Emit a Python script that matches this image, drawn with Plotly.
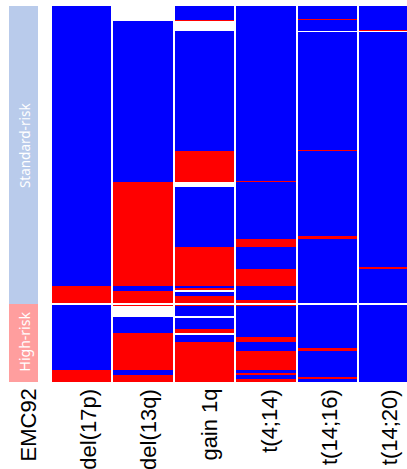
import numpy as np
import plotly.graph_objects as go

# ---------------- data ----------------
columns = ["del(17p)", "del(13q)", "gain 1q", "t(4;14)", "t(14;16)", "t(14;20)"]
risk_groups = ["Standard-risk", "High-risk"]
emc_label = "EMC92"

# status codes: 0 = absent (blue), 1 = present (red), None = not available (white)
# run-length encoded patients, top to bottom: (status, n_patients)
std_runs = {
    "del(17p)": [(0, 280), (1, 17)],
    "del(13q)": [(None, 15), (0, 161), (1, 104), (0, 5), (1, 12)],
    "gain 1q": [(0, 14), (1, 1), (None, 10), (0, 120), (1, 31), (None, 5), (0, 60),
                (1, 39), (0, 2), (1, 2), (None, 2), (0, 4), (1, 7)],
    "t(4;14)": [(0, 175), (1, 1), (0, 57), (1, 8), (0, 22), (1, 17), (0, 14), (1, 3)],
    "t(14;16)": [(0, 13), (1, 1), (0, 11), (None, 1), (0, 118), (1, 1), (0, 85), (1, 3), (0, 64)],
    "t(14;20)": [(0, 24), (1, 1), (None, 1), (0, 235), (1, 2), (0, 34)],
}
high_runs = {
    "del(17p)": [(0, 65), (1, 12)],
    "del(13q)": [(1, 1), (None, 11), (0, 16), (1, 37), (0, 5), (1, 7)],
    "gain 1q": [(1, 1), (0, 10), (None, 2), (0, 11), (1, 4), (None, 2), (0, 7), (1, 40)],
    "t(4;14)": [(1, 1), (0, 31), (1, 5), (0, 9), (1, 19), (0, 3), (1, 2), (0, 4), (1, 3)],
    "t(14;16)": [(0, 43), (1, 3), (0, 26), (1, 2), (0, 3)],
    "t(14;20)": [(0, 77)],
}

# ---------------- styling / layout constants ----------------
W, H = 407, 469
BLUE, RED = "#0000FF", "#FF0000"
STD_COL, HIGH_COL = "#B9CBEB", "#FF9E9E"
GROUP_GAP = 2            # white separator between risk groups (in row units)
COL_PX0, COL_PX_STEP = 51, 61.4     # pixel of first column left edge, column pitch
EMC_PX = (9, 38)                    # EMC92 bar pixel extent
LABEL_PX0, LABEL_PX_STEP = 28, 60.2 # label centres
PLOT_TOP, PLOT_BOTTOM = 6, 382


def expand(runs):
    out = []
    for v, n in runs:
        out.extend([v] * n)
    return out


def build_z(runs_dict):
    cols = [expand(runs_dict[c]) for c in columns]
    n = len(cols[0])
    return [[cols[j][i] for j in range(len(columns))] for i in range(n)], n


z_std, n_std = build_z(std_runs)
z_high, n_high = build_z(high_runs)
total = n_std + GROUP_GAP + n_high

x_edges = np.arange(len(columns) + 1)
y_std = np.arange(n_std + 1)
y_high = n_std + GROUP_GAP + np.arange(n_high + 1)

px2u = lambda px: (px - COL_PX0) / COL_PX_STEP
emc_x = [px2u(EMC_PX[0]), px2u(EMC_PX[1])]

cs = [[0, BLUE], [1, RED]]
fig = go.Figure()
for z, ye in [(z_std, y_std), (z_high, y_high)]:
    fig.add_trace(go.Heatmap(z=z, x=x_edges, y=ye, colorscale=cs, zmin=0, zmax=1,
                             showscale=False, xgap=2, hoverongaps=False))

fig.add_trace(go.Heatmap(z=[[0], [1]], x=emc_x,
                         y=[0, n_std + GROUP_GAP / 2, total],
                         colorscale=[[0, STD_COL], [1, HIGH_COL]], zmin=0, zmax=1,
                         showscale=False))

emc_cx = (emc_x[0] + emc_x[1]) / 2
fig.add_annotation(x=emc_cx, y=n_std * 0.47, xref="x", yref="y", text=risk_groups[0],
                   textangle=-90, showarrow=False, xshift=1,
                   font=dict(family="Noto Sans", size=13.5, color="white"))
fig.add_annotation(x=emc_cx, y=n_std + GROUP_GAP + n_high * 0.48, xref="x", yref="y",
                   text=risk_groups[1], textangle=-90, showarrow=False, xshift=1,
                   font=dict(family="Noto Sans", size=14, color="white"))

for k, lab in enumerate([emc_label] + columns):
    fig.add_annotation(x=(LABEL_PX0 + LABEL_PX_STEP * k) / W, y=0, xref="paper", yref="paper",
                       xanchor="center", yanchor="top", yshift=-5,
                       text=lab, textangle=-90, showarrow=False,
                       font=dict(family="Liberation Sans", size=22, color="black"))

fig.update_xaxes(range=[px2u(0), px2u(W)], visible=False, fixedrange=True)
fig.update_yaxes(range=[total, 0], visible=False, fixedrange=True)
fig.update_layout(width=W, height=H, margin=dict(l=0, r=0, t=PLOT_TOP, b=H - PLOT_BOTTOM),
                  plot_bgcolor="white", paper_bgcolor="white", showlegend=False)

fig.write_html("out.html")
